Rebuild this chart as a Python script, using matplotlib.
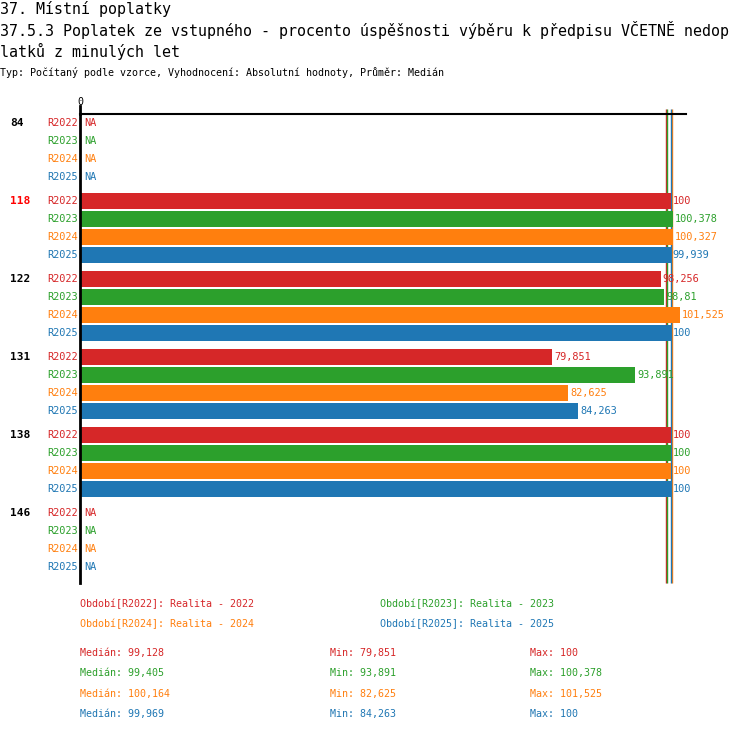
import numpy as np
import matplotlib
matplotlib.use('Agg')
import matplotlib.pyplot as plt

# data
groups = ['84', '118', '122', '131', '138', '146']
series = ['R2022', 'R2023', 'R2024', 'R2025']
values = {
    'R2022': [np.nan, 100, 98.256, 79.851, 100, np.nan],
    'R2023': [np.nan, 100.378, 98.81, 93.891, 100, np.nan],
    'R2024': [np.nan, 100.327, 101.525, 82.625, 100, np.nan],
    'R2025': [np.nan, 99.939, 100, 84.263, 100, np.nan],
}
# medians as printed (source data has more decimals than shown)
medians = [99.128, 99.405, 100.164, 99.969]
legend_names = ['Realita - 2022', 'Realita - 2023', 'Realita - 2024', 'Realita - 2025']
highlight = '118'

colors = ['#d62728', '#2ca02c', '#ff7f0e', '#1f77b4']
W, H = 750, 732
FONT = 'DejaVu Sans Mono'


def fmt(v):
    s = ('%.3f' % v).rstrip('0').rstrip('.')
    return s.replace('.', ',')


def px(x, y):
    return x / W, 1 - y / H


fig = plt.figure(figsize=(W / 100, H / 100), dpi=100)

# titles
fig.text(*px(0, 9), '37. Místní poplatky', family=FONT, fontsize=10.8, va='center')
fig.text(*px(0, 30), '37.5.3 Poplatek ze vstupného - procento úspěšnosti výběru k předpisu VČETNĚ nedop',
         family=FONT, fontsize=10.8, va='center')
fig.text(*px(0, 51), 'latků z minulých let', family=FONT, fontsize=10.8, va='center')
fig.text(*px(0, 73), 'Typ: Počítaný podle vzorce, Vyhodnocení: Absolutní hodnoty, Průměr: Medián',
         family=FONT, fontsize=7.2, va='center')

# axes: x=0 at px 80, x=100 at px 671
scale = 5.91
x0, x1 = 80, 686
top, bottom = 114, 583
pitch = 18.0
first = 123
gstep = 78 / pitch
ax = fig.add_axes([x0 / W, 1 - bottom / H, (x1 - x0) / W, (bottom - top) / H])
ax.set_xlim(0, (x1 - x0) / scale)
ax.set_ylim((bottom - first) / pitch, (top - first) / pitch)
for s in ['right', 'bottom']:
    ax.spines[s].set_visible(False)
ax.spines['top'].set_linewidth(1.5)
ax.spines['left'].set_linewidth(2)
ax.set_xticks([])
ax.set_yticks([])

for g, grp in enumerate(groups):
    ax.text(-70 / scale, g * gstep, grp, family=FONT, fontsize=8, fontweight='bold',
            color='red' if grp == highlight else 'black', va='center', ha='left')
    for k, name in enumerate(series):
        y = g * gstep + k
        v = values[name][g]
        ax.text(-2 / scale, y, name, family=FONT, fontsize=7.4, color=colors[k],
                va='center', ha='right')
        if np.isnan(v):
            ax.text(4 / scale, y, 'NA', family=FONT, fontsize=7.4, color=colors[k],
                    va='center', ha='left')
        else:
            ax.barh(y, v, height=16 / pitch, color=colors[k], left=0, zorder=2)
            ax.text(v + 2 / scale, y, fmt(v), family=FONT, fontsize=7.4, color=colors[k],
                    va='center', ha='left', zorder=4)

# median lines
stats = []
for k, name in enumerate(series):
    arr = np.array(values[name], dtype=float)
    arr = arr[~np.isnan(arr)]
    med, mn, mx = medians[k], arr.min(), arr.max()
    stats.append((med, mn, mx))
    ax.vlines(med, (109 - first) / pitch, (bottom - first) / pitch, color=colors[k],
              linewidth=1.0, zorder=1, clip_on=False)

# zero tick
ax.plot([0, 0], [(106 - first) / pitch, (top - first) / pitch], color='black', lw=2,
        clip_on=False)
fig.text(*px(80, 102), '0', family=FONT, fontsize=7.2, ha='center', va='center')

# legend
leg_pos = [(80, 604), (380, 604), (80, 624), (380, 624)]
for k, name in enumerate(series):
    fig.text(*px(*leg_pos[k]), 'Období[%s]: %s' % (name, legend_names[k]),
             family=FONT, fontsize=7.2, color=colors[k], va='center')

# statistics
for k, (med, mn, mx) in enumerate(stats):
    y = 653 + k * 20.3
    fig.text(*px(80, y), 'Medián: ' + fmt(med), family=FONT, fontsize=7.2, color=colors[k], va='center')
    fig.text(*px(330, y), 'Min: ' + fmt(mn), family=FONT, fontsize=7.2, color=colors[k], va='center')
    fig.text(*px(530, y), 'Max: ' + fmt(mx), family=FONT, fontsize=7.2, color=colors[k], va='center')

fig.savefig('out.png', dpi=100)
